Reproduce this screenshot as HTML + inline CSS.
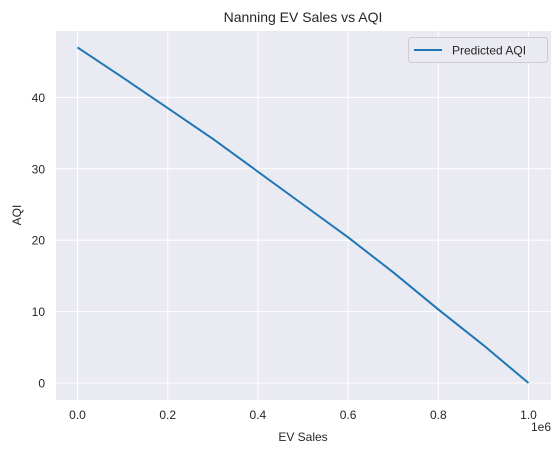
<!DOCTYPE html>
<html><head><meta charset="utf-8"><style>
body{margin:0;background:#fff;}
svg text{font-family:"Liberation Sans",Arial,sans-serif;fill:#262626;}
</style></head><body>
<svg width="560" height="453">
<rect x="56" y="31" width="495" height="369" fill="#eaeaf2"/>
<g id="grid"></g>
<g id="ticks"></g>
<polyline id="line" fill="none" stroke="#1f77b4" stroke-width="2" stroke-linejoin="round"/>
<text x="303" y="22" text-anchor="middle" font-size="14">Nanning EV Sales vs AQI</text>
<text x="303" y="441" text-anchor="middle" font-size="12">EV Sales</text>
<text x="21" y="215" text-anchor="middle" font-size="12" transform="rotate(-90 21 215)">AQI</text>
<text x="551" y="431" text-anchor="end" font-size="12">1e6</text>
<g>
<rect x="408.5" y="37.5" width="139" height="25" rx="3" fill="#eaeaf2" stroke="#cccccc"/>
<line x1="414" y1="50" x2="442" y2="50" stroke="#1f77b4" stroke-width="2"/>
<text x="452" y="54.5" font-size="12">Predicted AQI</text>
</g>
</svg>
<script>
const xs=[0,0.1,0.2,0.3,0.4,0.5,0.6,0.7,0.8,0.9,1.0];
const ys=[47,42.8,38.5,34.2,29.6,25.0,20.4,15.5,10.3,5.3,0];
const xTicks=[0,0.2,0.4,0.6,0.8,1.0];
const xTickLabels=["0.0","0.2","0.4","0.6","0.8","1.0"];
const yTicks=[0,10,20,30,40];
const X=v=>77.5+v*451;
const Y=v=>383-v*7.14;
const NS="http://www.w3.org/2000/svg";
const grid=document.getElementById('grid'),ticks=document.getElementById('ticks');
xTicks.forEach((t,i)=>{
 const l=document.createElementNS(NS,'line');
 l.setAttribute('x1',X(t));l.setAttribute('x2',X(t));l.setAttribute('y1',31);l.setAttribute('y2',400);
 l.setAttribute('stroke','#fff');l.setAttribute('stroke-width','1');
 
 
 grid.appendChild(l);
 const tx=document.createElementNS(NS,'text');
 tx.setAttribute('x',X(t));tx.setAttribute('y',419);tx.setAttribute('text-anchor','middle');tx.setAttribute('font-size','12');
 tx.textContent=xTickLabels[i];
 
 
 ticks.appendChild(tx);
});
yTicks.forEach(t=>{
 const l=document.createElementNS(NS,'line');
 l.setAttribute('x1',56);l.setAttribute('x2',551);l.setAttribute('y1',Y(t));l.setAttribute('y2',Y(t));
 l.setAttribute('stroke','#fff');l.setAttribute('stroke-width','1');
 
 
 grid.appendChild(l);
 const tx=document.createElementNS(NS,'text');
 tx.setAttribute('x',45);tx.setAttribute('y',Y(t)+4.5);tx.setAttribute('text-anchor','end');tx.setAttribute('font-size','12');
 tx.textContent=t;
 
 
 ticks.appendChild(tx);
});
document.getElementById('line').setAttribute('points',xs.map((x,i)=>X(x)+','+Y(ys[i])).join(' '));
</script>
</body></html>
